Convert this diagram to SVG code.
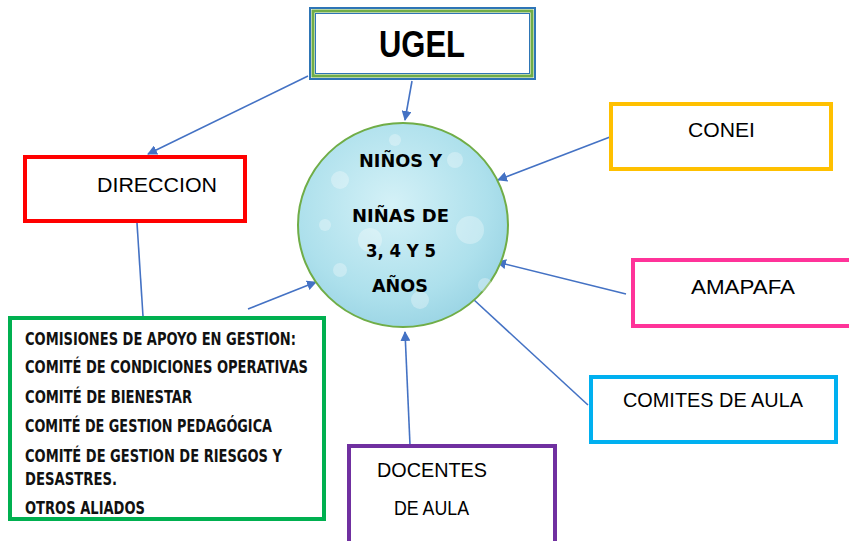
<svg xmlns="http://www.w3.org/2000/svg" width="849" height="541" viewBox="0 0 849 541">
<defs>
<style>
.box{fill:#fff;stroke-width:4}
.lbl{font-family:"Liberation Sans",Arial,sans-serif;font-size:20px;fill:#000}
.cond{font-family:"DejaVu Sans Condensed","DejaVu Sans",sans-serif;font-stretch:condensed;font-weight:bold;font-size:18.5px;fill:#111}
.kid{font-family:"DejaVu Sans Condensed","DejaVu Sans",sans-serif;font-stretch:condensed;font-weight:bold;font-size:18px;fill:#000}
.con{stroke:#4472C4;stroke-width:1.6;fill:none}
</style>
<marker id="arr" viewBox="0 0 10 10" refX="9" refY="5" markerWidth="10" markerHeight="10" markerUnits="userSpaceOnUse" orient="auto">
<path d="M0,0 L10,5 L0,10 Z" fill="#4472C4"/>
</marker>
<radialGradient id="water" cx="0.45" cy="0.4" r="0.65">
<stop offset="0" stop-color="#d4f1f7"/>
<stop offset="0.7" stop-color="#ade0ec"/>
<stop offset="1" stop-color="#98d3e3"/>
</radialGradient>
</defs>
<rect width="849" height="541" fill="#fff"/>

<g id="connectors">
<line class="con" x1="308" y1="76" x2="148" y2="154" marker-end="url(#arr)"/>
<line class="con" x1="412" y1="81" x2="405" y2="120" marker-end="url(#arr)"/>
<line class="con" x1="610" y1="137" x2="498" y2="180" marker-end="url(#arr)"/>
<line class="con" x1="626" y1="294" x2="497" y2="262" marker-end="url(#arr)"/>
<line class="con" x1="588" y1="405" x2="473" y2="299"/>
<line class="con" x1="410" y1="445" x2="405" y2="332" marker-end="url(#arr)"/>
<line class="con" x1="248" y1="309" x2="316" y2="282" marker-end="url(#arr)"/>
<line class="con" x1="137" y1="223" x2="143" y2="316"/>
</g>

<g id="ugel">
<rect x="310" y="8" width="225" height="71" fill="#fff" stroke="#2E75B6" stroke-width="2"/>
<rect x="313" y="11" width="219" height="65" fill="none" stroke="#70AD47" stroke-width="3"/>
<rect x="315.5" y="13.5" width="214" height="60" fill="none" stroke="#2E75B6" stroke-width="1"/>
<text x="379" y="57" font-family="Liberation Sans,Arial,sans-serif" font-weight="bold" font-size="37" textLength="86" lengthAdjust="spacingAndGlyphs">UGEL</text>
</g>

<g id="ninos">
<ellipse cx="403" cy="225" rx="105" ry="102" fill="url(#water)" stroke="#70AD47" stroke-width="2"/>
<g fill="#ffffff" opacity="0.3">
<circle cx="340" cy="180" r="9"/><circle cx="370" cy="240" r="12"/><circle cx="455" cy="160" r="8"/>
<circle cx="470" cy="230" r="14"/><circle cx="340" cy="270" r="7"/><circle cx="420" cy="300" r="9"/>
<circle cx="395" cy="140" r="6"/><circle cx="485" cy="285" r="7"/><circle cx="325" cy="225" r="6"/>
</g>
<text class="kid" x="359" y="167" textLength="83" lengthAdjust="spacingAndGlyphs">NIÑOS Y</text>
<text class="kid" x="352" y="222" textLength="97" lengthAdjust="spacingAndGlyphs">NIÑAS DE</text>
<text class="kid" x="366" y="257" textLength="70" lengthAdjust="spacingAndGlyphs">3, 4 Y 5</text>
<text class="kid" x="372" y="292" textLength="56" lengthAdjust="spacingAndGlyphs">AÑOS</text>
</g>

<g id="direccion">
<rect class="box" x="25" y="157" width="220" height="64" stroke="#FF0000"/>
<text class="lbl" x="97" y="192" font-size="21" textLength="120" lengthAdjust="spacingAndGlyphs">DIRECCION</text>
</g>

<g id="conei">
<rect class="box" x="611" y="104" width="220" height="65" stroke="#FFC000"/>
<text class="lbl" x="688" y="137" font-size="21" textLength="67" lengthAdjust="spacingAndGlyphs">CONEI</text>
</g>

<g id="amapafa">
<rect class="box" x="633" y="260" width="230" height="66" stroke="#FF3399"/>
<text class="lbl" x="691" y="294" font-size="21" textLength="104" lengthAdjust="spacingAndGlyphs">AMAPAFA</text>
</g>

<g id="comites-aula">
<rect class="box" x="591" y="377" width="245" height="65" stroke="#00B0F0"/>
<text class="lbl" x="623" y="407" textLength="180" lengthAdjust="spacingAndGlyphs">COMITES DE AULA</text>
</g>

<g id="docentes">
<rect class="box" x="349" y="446" width="206" height="110" stroke="#7030A0"/>
<text class="lbl" x="377" y="477" textLength="110" lengthAdjust="spacingAndGlyphs">DOCENTES</text>
<text class="lbl" x="394" y="515" textLength="75" lengthAdjust="spacingAndGlyphs">DE AULA</text>
</g>

<g id="comisiones">
<rect class="box" x="10" y="318" width="314" height="201" stroke="#00B050"/>
<text class="cond" x="25" y="345" textLength="271" lengthAdjust="spacingAndGlyphs">COMISIONES DE APOYO EN GESTION:</text>
<text class="cond" x="25" y="373" textLength="283" lengthAdjust="spacingAndGlyphs">COMITÉ DE CONDICIONES OPERATIVAS</text>
<text class="cond" x="25" y="403" textLength="167" lengthAdjust="spacingAndGlyphs">COMITÉ DE BIENESTAR</text>
<text class="cond" x="25" y="432" textLength="247" lengthAdjust="spacingAndGlyphs">COMITÉ DE GESTION PEDAGÓGICA</text>
<text class="cond" x="25" y="462" textLength="257" lengthAdjust="spacingAndGlyphs">COMITÉ DE GESTION DE RIESGOS Y</text>
<text class="cond" x="25" y="485" textLength="92" lengthAdjust="spacingAndGlyphs">DESASTRES.</text>
<text class="cond" x="25" y="514" textLength="120" lengthAdjust="spacingAndGlyphs">OTROS ALIADOS</text>
</g>
</svg>
